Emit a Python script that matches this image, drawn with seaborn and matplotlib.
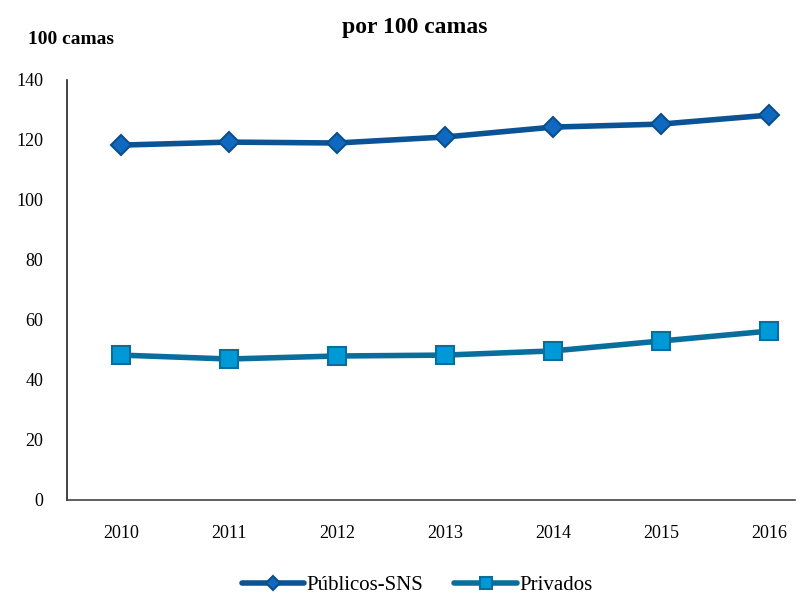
import matplotlib
matplotlib.use("Agg")
import matplotlib.pyplot as plt
import seaborn as sns
import pandas as pd

years = ["2010", "2011", "2012", "2013", "2014", "2015", "2016"]
publicos = [118.3, 119.3, 119.0, 121.0, 124.3, 125.3, 128.3]
privados = [48.3, 47.0, 48.0, 48.3, 49.7, 53.0, 56.3]
series_names = ["Públicos-SNS", "Privados"]
y_ticks = [0, 20, 40, 60, 80, 100, 120, 140]

sns.set_theme(style="white")
plt.rcParams['font.family'] = ['Liberation Serif', 'DejaVu Serif']
plt.rcParams['text.color'] = 'black'
plt.rcParams['xtick.color'] = 'black'
plt.rcParams['ytick.color'] = 'black'

df = pd.DataFrame({
    "idx": list(range(len(years))) * 2,
    "value": publicos + privados,
    "serie": [series_names[0]] * len(years) + [series_names[1]] * len(years),
})

fig = plt.figure(figsize=(8.11, 5.95), dpi=100)
ax = fig.add_axes([67/811, 95/595, (795-67)/811, 420/595])

styles = {
    series_names[0]: dict(color="#0B5394", marker="D", mfc="#1069C0", mec="#0A4F8A", ms=10, lms=7),
    series_names[1]: dict(color="#0A6E9C", marker="s", mfc="#0099D8", mec="#0A6E9C", ms=13, lms=9),
}
for name in series_names:
    st = styles[name]
    sub = df[df["serie"] == name]
    sns.lineplot(data=sub, x="idx", y="value", ax=ax, color=st["color"], linewidth=4,
                 marker=st["marker"], markersize=st["ms"], markerfacecolor=st["mfc"],
                 markeredgecolor=st["mec"], markeredgewidth=1.5, label=name)

ax.set_xlim(-0.5, 6.24)
ax.set_ylim(0, 140)
ax.set_yticks(y_ticks)
ax.set_yticklabels([str(t) for t in y_ticks], fontsize=13)
ax.set_xticks(range(len(years)))
ax.set_xticklabels(years, fontsize=13)
ax.tick_params(axis="both", length=0)
ax.tick_params(axis="y", pad=17)
ax.tick_params(axis="x", pad=18)
ax.set_xlabel("")
ax.set_ylabel("")
for s in ["top", "right"]:
    ax.spines[s].set_visible(False)
ax.spines["left"].set_color("#222222")
ax.spines["bottom"].set_color("#444444")
ax.spines["left"].set_linewidth(1.2)
ax.spines["bottom"].set_linewidth(1.2)

fig.text(415/811, 1 - 27/595, "por 100 camas", ha="center", va="center",
         fontsize=17, fontweight="bold")
fig.text(28/811, 1 - 40/595, "100 camas", ha="left", va="center",
         fontsize=14, fontweight="bold")

leg = ax.legend(loc="center", ncol=2, frameon=False, fontsize=15, handlelength=3,
                columnspacing=1.5, handletextpad=0.1)
leg.set_bbox_to_anchor((417/811, 1 - 585/595), transform=fig.transFigure)
for h, name in zip(leg.legend_handles, series_names):
    h.set_markersize(styles[name]["lms"])

fig.savefig("out.png", dpi=100)
